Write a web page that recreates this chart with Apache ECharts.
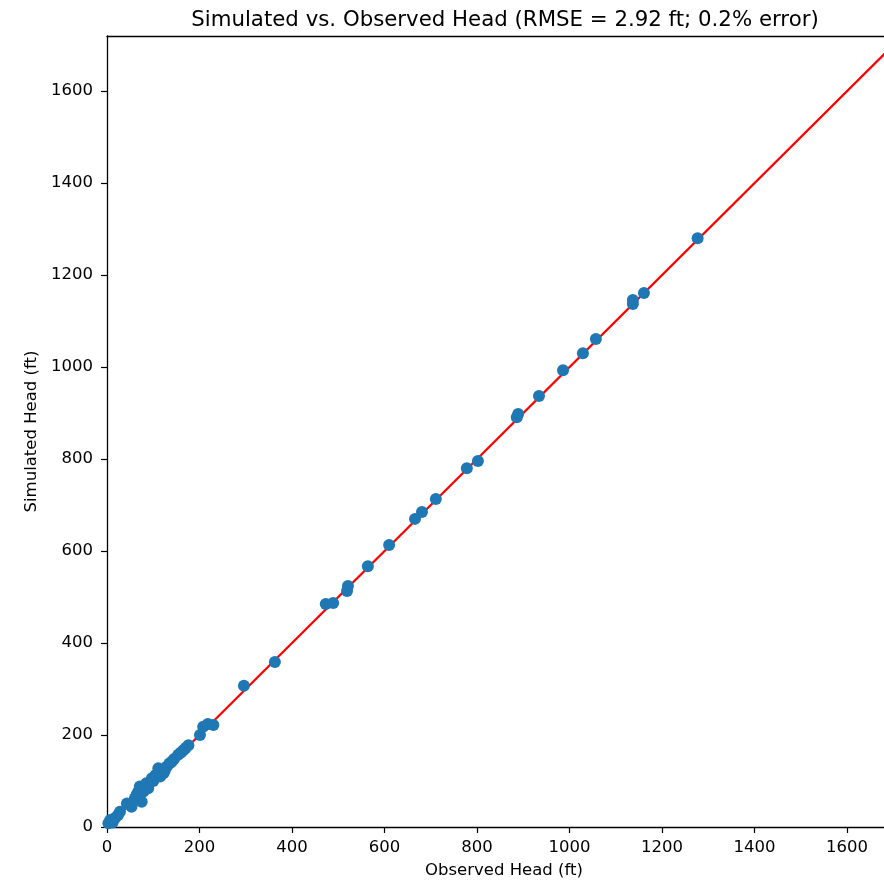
<!DOCTYPE html>
<html>
<head>
<meta charset="utf-8">
<script src="https://cdn.jsdelivr.net/npm/echarts@6/dist/echarts.min.js"></script>
<style>
html,body{margin:0;padding:0;background:#fff;}
#chart{width:884px;height:881px;}
</style>
</head>
<body>
<div id="chart"></div>
<script>
// Observed vs simulated heads (ft)
const observed = [3, 7, 14, 18, 24, 28, 12, 43, 53, 60, 64, 68, 71, 75, 79, 85, 89, 97, 100, 105, 111, 115, 122, 125, 129, 135, 140, 145, 154, 160, 165, 170, 176,
  201, 208, 218, 230, 296, 363, 473, 489, 519, 521, 564, 610, 666, 681, 711, 778, 802, 886, 889, 934, 986, 1029, 1057, 1137, 1137, 1161, 1277];
const simulated = [8, 15, 15, 20, 26, 33, 10, 51, 44, 62, 70, 78, 88, 55, 77, 95, 84, 106, 100, 113, 128, 110, 117, 123, 131, 138, 142, 148, 157, 162, 167, 172, 178,
  200, 218, 224, 222, 307, 359, 485, 487, 513, 524, 567, 613, 670, 685, 713, 780, 796, 891, 898, 937, 993, 1030, 1061, 1137, 1146, 1161, 1280];
const lineEnds = [0, 1720];
const xMax = 1680;   // visible part of the x axis (figure is cropped on the right)
const yMax = 1720;
const tickStep = 200;
const titleText = 'Simulated vs. Observed Head (RMSE = 2.92 ft; 0.2% error)';
const xName = 'Observed Head (ft)';
const yName = 'Simulated Head (ft)';

const pts = observed.map((v, i) => [v, simulated[i]]);
const font = 'DejaVu Sans';
const fmt = v => (v % tickStep === 0 ? String(v) : '');
const chart = echarts.init(document.getElementById('chart'), null, {renderer: 'canvas'});
chart.setOption({
  animation: false,
  backgroundColor: '#ffffff',
  title: {
    text: titleText,
    left: 500,
    top: 5,
    textAlign: 'center',
    textStyle: {fontFamily: font, fontSize: 21.3, fontWeight: 'normal', color: '#000'}
  },
  grid: {left: 107, top: 36, right: 0, bottom: 54, containLabel: false, outerBoundsMode: 'none'},
  xAxis: [{
    type: 'value', min: 0, max: xMax, interval: tickStep,
    name: xName, nameLocation: 'middle', nameGap: 35, nameMoveOverlap: false,
    nameTextStyle: {fontFamily: font, fontSize: 16.5, color: '#000', padding: [0, 0, 0, 17]},
    splitLine: {show: false},
    axisLine: {show: true, onZero: false, lineStyle: {color: '#000', width: 1.3}},
    axisTick: {show: true, length: 6, lineStyle: {color: '#000', width: 1.2}},
    axisLabel: {fontFamily: font, fontSize: 16.5, color: '#000', margin: 12, formatter: fmt, showMaxLabel: false}
  }, {
    type: 'value', position: 'top', min: 0, max: xMax,
    axisLine: {show: true, onZero: false, lineStyle: {color: '#000', width: 1.3}},
    axisTick: {show: false}, axisLabel: {show: false}, splitLine: {show: false}
  }],
  yAxis: {
    type: 'value', min: 0, max: yMax, interval: tickStep,
    name: yName, nameLocation: 'middle', nameGap: 63,
    nameTextStyle: {fontFamily: font, fontSize: 16.5, color: '#000'},
    splitLine: {show: false},
    axisLine: {show: true, onZero: false, lineStyle: {color: '#000', width: 1.3}},
    axisTick: {show: true, length: 6, lineStyle: {color: '#000', width: 1.2}},
    axisLabel: {fontFamily: font, fontSize: 16.5, color: '#000', margin: 14, formatter: fmt, showMaxLabel: false}
  },
  series: [
    {
      type: 'line',
      data: [[lineEnds[0], lineEnds[0]], [lineEnds[1], lineEnds[1]]],
      showSymbol: false, symbol: 'none',
      lineStyle: {color: '#ff0000', width: 2.2},
      clip: true, z: 2
    },
    {
      type: 'scatter',
      data: pts,
      symbolSize: 12,
      itemStyle: {color: '#1f77b4', opacity: 1},
      clip: false, z: 3
    }
  ]
});
</script>
</body>
</html>
